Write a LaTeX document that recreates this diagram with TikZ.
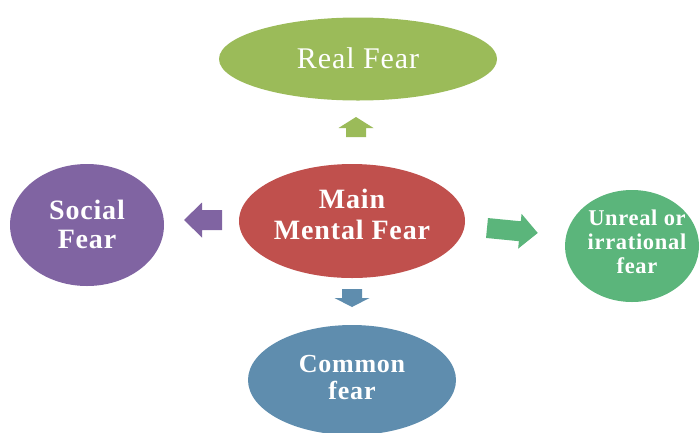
\documentclass[tikz,border=0pt]{standalone}
\usepackage{fontspec}
\setmainfont{Liberation Serif}[LetterSpace=3]
\usetikzlibrary{shapes.geometric}

\definecolor{realgreen}{HTML}{9BBB59}
\definecolor{mainred}{HTML}{C0504D}
\definecolor{socialpurple}{HTML}{8064A2}
\definecolor{unrealgreen}{HTML}{5BB57B}
\definecolor{commonblue}{HTML}{5F8DAE}

\tikzset{
  bubble/.style={ellipse,inner sep=0pt},
  caption/.style={inner sep=0pt,text=white,align=center,font=\bfseries},
}

% block arrow: colour, tail point, direction, length, head length
\newcommand{\fatarrow}[5]{%
  \fill[#1,shift={#2},rotate=#3] (0,-10) -- ({#4-#5},-10) -- ({#4-#5},-17.5)
    -- (#4,0) -- ({#4-#5},17.5) -- ({#4-#5},10) -- (0,10) -- cycle;}

\begin{document}
\begin{tikzpicture}[x=1pt,y=-1pt]
\useasboundingbox (0,0) rectangle (700,432);
\clip (0,0) rectangle (700,432);

% the five bubbles
\node[bubble,fill=realgreen,minimum width=278pt,minimum height=83pt] (real) at (358,59) {};
\node[bubble,fill=mainred,minimum width=226pt,minimum height=114pt] (main) at (352,221) {};
\node[bubble,fill=socialpurple,minimum width=154pt,minimum height=122pt] (social) at (87,225) {};
\node[bubble,fill=unrealgreen,minimum width=134pt,minimum height=112pt] (unreal) at (632,246) {};
\node[bubble,fill=commonblue,minimum width=208pt,minimum height=110pt] (common) at (352,380) {};

% their texts
\node[caption,font=\fontsize{30}{32}\selectfont] (realText) at ([yshift=1]real.center) {Real Fear};
\node[caption,font=\bfseries\fontsize{28}{31}\selectfont] (mainText) at ([yshift=7]main.center) {Main\\Mental Fear};
\node[caption,font=\bfseries\fontsize{28}{29}\selectfont] (socialText) at ([yshift=1]social.center) {Social\\Fear};
\node[caption,font=\bfseries\fontsize{22.5}{24}\selectfont] (unrealText) at ([xshift=5,yshift=4]unreal.center) {Unreal or\\irrational\\fear};
\node[caption,font=\bfseries\fontsize{26}{27}\selectfont] (commonText) at ([yshift=2]common.center) {Common\\fear};

% arrows pointing out from the centre
\fatarrow{realgreen}{(356,137)}{90}{20}{11}
\fatarrow{socialpurple}{(222,220)}{180}{38}{18}
\fatarrow{unrealgreen}{(487,228)}{-5.6}{51}{18}
\fatarrow{commonblue}{(352,289)}{270}{18}{9}
\end{tikzpicture}
\end{document}
